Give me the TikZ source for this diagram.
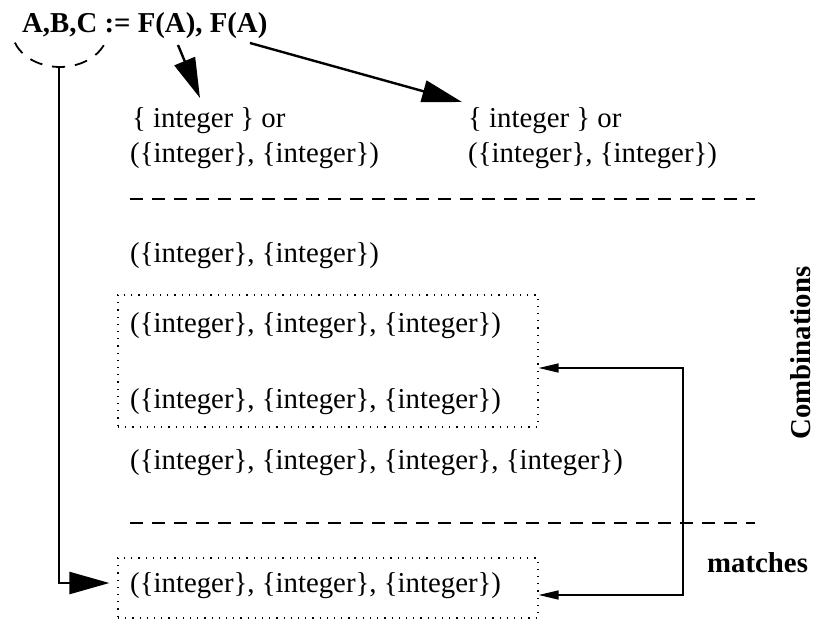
\documentclass[tikz,border=0pt]{standalone}
\usepackage{fontspec}
\setmainfont{Liberation Serif}
\usetikzlibrary{arrows.meta,calc}
\begin{document}
\begin{tikzpicture}[x=1pt,y=-1pt,
 txt/.style={anchor=base west,inner sep=0pt,font=\fontsize{28.8}{30}\selectfont},
 btxt/.style={inner sep=0pt,font=\fontsize{28.8}{30}\selectfont\bfseries},
 dotbox/.style={draw,line width=1.2pt,dash pattern=on 1.2pt off 6pt,minimum width=420pt,inner sep=0pt},
 sepline/.style={line width=1.4pt,dash pattern=on 13pt off 9pt},
 bigarrow/.style={line width=2.4pt,-{Triangle[length=40pt,width=22pt]}},
 smallarrows/.style={line width=1.5pt,{Triangle[length=20pt,width=9pt]}-{Triangle[length=20pt,width=9pt]}}
]
\useasboundingbox (0,0) rectangle (816,621);

% title
\node[btxt,anchor=base west] (title) at (22,32) {A,B,C := F(A), F(A)};
\coordinate (s1) at (178,45);
\coordinate (e1) at (200,98);
\coordinate (s2) at (250,43);
\coordinate (e2) at (462,102);
\coordinate (arcbot) at (59,67);

% dashed bracket under A,B,C
\draw[line width=1.8pt,dash pattern=on 13pt off 10pt] (14.9,42.65) arc[start angle=160,end angle=20,x radius=48,y radius=37];

% top text
\node[txt] (t1a) at (132,127) {\{ integer \} or};
\node[txt] (t1b) at (130,162) {(\{integer\}, \{integer\})};
\node[txt] (t2a) at (468,127) {\{ integer \} or};
\node[txt] (t2b) at (468,162) {(\{integer\}, \{integer\})};

\draw[bigarrow] (s1) -- (e1);
\draw[bigarrow] (s2) -- (e2);

% separators
\coordinate (d1a) at (130,199);
\coordinate (d1b) at (755,199);
\coordinate (d2a) at (130,523);
\coordinate (d2b) at (755,523);
\draw[sepline] (d1a) -- (d1b);
\draw[sepline] (d2a) -- (d2b);

% combinations
\node[txt] (t3) at (130,262) {(\{integer\}, \{integer\})};
\node[dotbox,minimum height=132pt] (box1) at (328,361) {};
\node[txt] (t4) at (130,332) {(\{integer\}, \{integer\}, \{integer\})};
\node[txt] (t5) at (130,408) {(\{integer\}, \{integer\}, \{integer\})};
\node[txt] (t6) at (130,469) {(\{integer\}, \{integer\}, \{integer\}, \{integer\})};

% matched
\node[dotbox,minimum height=60pt] (box2) at (328,588) {};
\node[txt] (t7) at (130,592) {(\{integer\}, \{integer\}, \{integer\})};

% labels
\node[btxt,anchor=base west] (matches) at (707,572) {matches};
\node[btxt,rotate=90] (comb) at (801,353) {Combinations};

% connectors
\coordinate (rc) at (683,0);
\draw[bigarrow,shorten >=8pt] (arcbot) |- ([yshift=5pt]box2.west);
\draw[smallarrows] ([yshift=-7pt]box2.east) -- ([yshift=-7pt]box2.east -| rc) |- ([yshift=-7pt]box1.east);
\end{tikzpicture}
\end{document}
